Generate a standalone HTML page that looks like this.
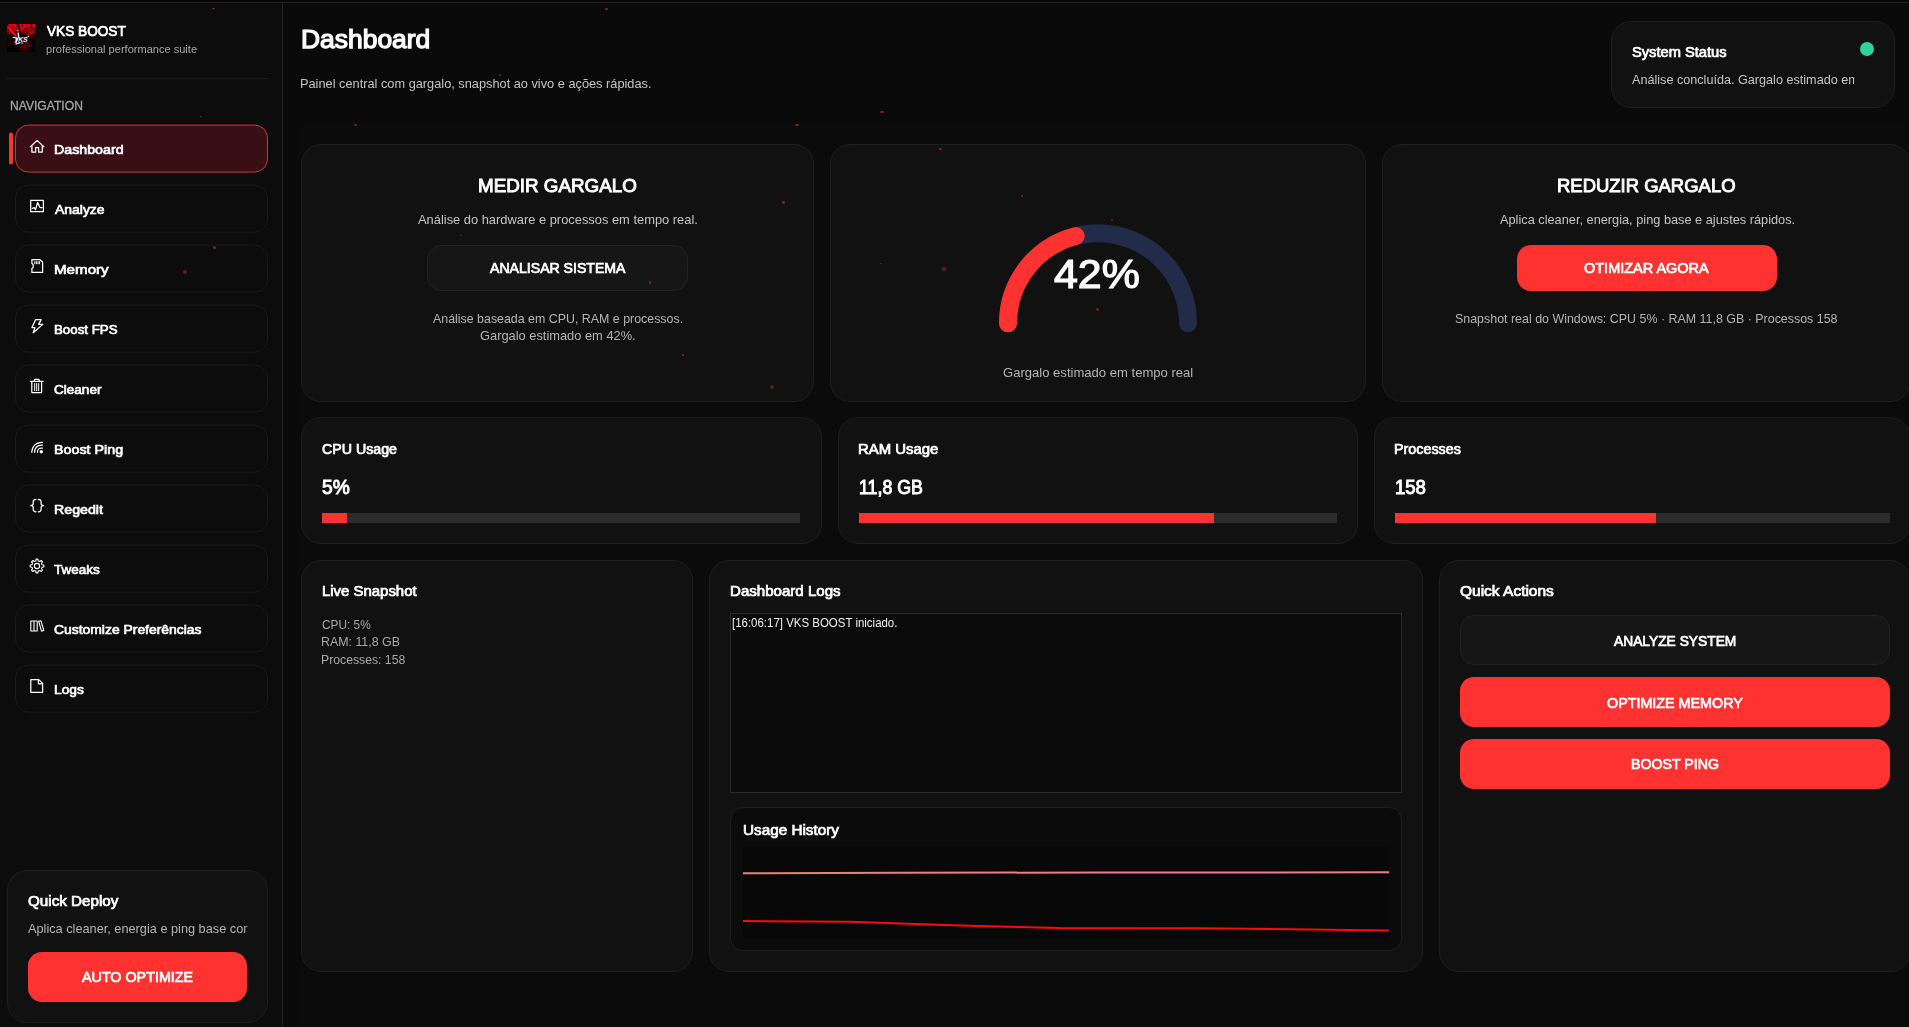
<!DOCTYPE html>
<html lang="pt-BR">
<head>
<meta charset="utf-8">
<title>VKS BOOST - Dashboard</title>
<style>
*{box-sizing:border-box;margin:0;padding:0}
html,body{width:1909px;height:1027px;overflow:hidden;background:#0a0a0a}
body{position:relative;font-family:"Liberation Sans",sans-serif;color:#fff}
.abs{position:absolute}
.t{position:absolute;white-space:nowrap;line-height:normal;display:block;transform-origin:0 0}
#topbar{left:0;top:0;width:1909px;height:2px;background:#060606}
#topline{left:0;top:2px;width:1909px;height:1px;background:#222}
#sidebar{left:0;top:3px;width:282px;height:1024px;background:#0c0c0c}
#sideline{left:282px;top:3px;width:1px;height:1024px;background:#222}
#content{left:301px;top:124px;width:1608px;height:903px;background:#0b0b0b}
.card{position:absolute;background:#111;border:1px solid #1e1e1e;border-radius:20px}
.nav{position:absolute;left:15px;width:253px;height:48px;border:1px solid #1a1a1a;border-radius:13px;background:#0c0c0c}
.nav.active{background:#3a0e15;border-color:#d83434}
.btn{position:absolute;border-radius:14px}
.btn.red{background:#ff3232}
.btn.dark{background:#161616;border:1px solid #222}
.track{position:absolute;height:10px;background:#2c2c2c}
.fill{position:absolute;left:0;top:0;height:10px;background:#ff3232}
.dot{position:absolute;border-radius:50%;background:#b02428}
svg{position:absolute;overflow:visible}
</style>
</head>
<body>
<div class="abs" id="topbar"></div>
<div class="abs" id="topline"></div>
<div class="abs" id="sidebar"></div>
<div class="abs" id="sideline"></div>
<div class="abs" id="content"></div>

<aside>
<!-- sidebar -->
<svg style="left:7px;top:24px" width="28" height="28" viewBox="0 0 28 28">
<defs>
<linearGradient id="lg1" x1="0" y1="0" x2="0" y2="1"><stop offset="0" stop-color="#e8000e"/><stop offset=".2" stop-color="#d0000c"/><stop offset=".32" stop-color="#6a0005"/><stop offset=".42" stop-color="#140001"/><stop offset="1" stop-color="#050000"/></linearGradient>
<radialGradient id="lg2" cx=".62" cy=".82" r=".3"><stop offset="0" stop-color="#6a0004" stop-opacity=".9"/><stop offset="1" stop-color="#300" stop-opacity="0"/></radialGradient>
<radialGradient id="lg3" cx=".86" cy=".33" r=".25"><stop offset="0" stop-color="#d0000a" stop-opacity=".9"/><stop offset="1" stop-color="#600" stop-opacity="0"/></radialGradient>
<filter id="gr" x="0" y="0" width="100%" height="100%"><feTurbulence type="fractalNoise" baseFrequency="0.30" numOctaves="2" seed="4" result="n"/><feColorMatrix in="n" type="matrix" values="0 0 0 0 0  0 0 0 0 0  0 0 0 0 0  3.2 0 0 0 -1.45"/><feComposite in2="SourceGraphic" operator="in"/></filter>
<clipPath id="lc"><rect width="28" height="28"/></clipPath>
</defs>
<g clip-path="url(#lc)">
<rect width="28" height="28" fill="url(#lg1)"/>
<rect width="28" height="28" fill="url(#lg2)"/>
<rect width="28" height="28" fill="url(#lg3)"/>
<rect width="28" height="13" fill="#200000" filter="url(#gr)"/>
<path d="M2.5 4.5 L8.8 11.8" stroke="#ff0d14" stroke-width="2" stroke-linecap="round"/>
<path d="M23.2 7.5 L19.6 15.2" stroke="#e0000c" stroke-width="1.2" stroke-linecap="round" stroke-dasharray="1.6 1.4" opacity=".8"/><path d="M19.4 17 L23.4 23.5" stroke="#b00008" stroke-width="1.1" stroke-linecap="round" stroke-dasharray="1 1.8" opacity=".7"/>
<path d="M12 4 L13.2 9" stroke="#1a0000" stroke-width="2.2" stroke-linecap="round" opacity=".7"/>
<circle cx="10.6" cy="6.6" r=".75" fill="#fff"/>
<path d="M11.2 9.2 L11.6 12.6 M6.2 13.4 L9.4 14 L8.8 19 L11.6 12.8 M9 20 L13 18.6" stroke="#fff" stroke-width="1.25" fill="none" stroke-linecap="round"/>
<text x="11.2" y="18" font-family="Liberation Sans, sans-serif" font-size="6.6" font-weight="bold" font-style="italic" fill="#fff" textLength="9.5" lengthAdjust="spacingAndGlyphs">KS</text>
<circle cx="21.3" cy="12.4" r=".6" fill="#fff"/>
<rect x="14.2" y="18.6" width="2" height=".9" fill="#fff"/>
<circle cx="7.4" cy="18.2" r=".8" fill="#e0000c"/><circle cx="18.6" cy="18.2" r=".8" fill="#e0000c"/><circle cx="12.6" cy="17.4" r=".7" fill="#e0000c"/>
</g>
</svg>
<div class="abs" style="left:7px;top:78px;width:261px;height:1px;background:#1e1e1e"></div>
<svg style="left:0;top:0" width="282" height="720" viewBox="0 0 282 720">
<rect x="9" y="132.6" width="4" height="32" rx="2" fill="#ff3232"/>
<rect x="15.5" y="125.07" width="252" height="47" rx="13" fill="#3a0e15" stroke="#d63434" stroke-width="1"/>
<rect x="15.5" y="185.07" width="252" height="47" rx="13" fill="#0c0c0c" stroke="#1b1b1b" stroke-width="1"/>
<rect x="15.5" y="245.07" width="252" height="47" rx="13" fill="#0c0c0c" stroke="#1b1b1b" stroke-width="1"/>
<rect x="15.5" y="305.07" width="252" height="47" rx="13" fill="#0c0c0c" stroke="#1b1b1b" stroke-width="1"/>
<rect x="15.5" y="365.07" width="252" height="47" rx="13" fill="#0c0c0c" stroke="#1b1b1b" stroke-width="1"/>
<rect x="15.5" y="425.07" width="252" height="47" rx="13" fill="#0c0c0c" stroke="#1b1b1b" stroke-width="1"/>
<rect x="15.5" y="485.07" width="252" height="47" rx="13" fill="#0c0c0c" stroke="#1b1b1b" stroke-width="1"/>
<rect x="15.5" y="545.07" width="252" height="47" rx="13" fill="#0c0c0c" stroke="#1b1b1b" stroke-width="1"/>
<rect x="15.5" y="605.07" width="252" height="47" rx="13" fill="#0c0c0c" stroke="#1b1b1b" stroke-width="1"/>
<rect x="15.5" y="665.07" width="252" height="47" rx="13" fill="#0c0c0c" stroke="#1b1b1b" stroke-width="1"/>
</svg>
<svg style="left:0;top:0" width="282" height="720" viewBox="0 0 282 720">
<g stroke="#fff" stroke-width="1.25" fill="none" stroke-linejoin="round" stroke-linecap="round">
<path d="M30.4 146.7 L37.1 140.4 L43.8 146.7 M31.9 146 V152 H35.6 V147.7 H38.6 V152 H42.3 V146"/>
<path d="M30.7 200.4 H43.4 V211.7 H30.7 Z M32.4 208.3 L34.3 207.6 L35.6 209.6 L37.6 202.4 L40 207.6 H42"/>
<path d="M31.9 259.7 H40 L42.6 261.9 V272.4 H31.9 V268.6 L33.2 267.6 V264.4 L31.9 263.4 Z"/>
<path d="M34.8 261.6 V263.8 M36.4 261.6 V263.8 M38 261.6 V263.8 M39.6 261.6 V263.8" stroke-width="1"/>
<path d="M35.7 319.6 H41.2 L38.6 324.4 H42.8 L33.2 332.8 L34.9 327.6 H31.9 Z"/>
<path d="M30.5 381.4 H43 M34.4 381.4 V380 Q34.4 379.4 35 379.4 H38.5 Q39.1 379.4 39.1 380 V381.4 M31.8 381.4 V392.1 Q31.8 392.7 32.4 392.7 H41 Q41.6 392.7 41.6 392.1 V381.4"/>
<path d="M34.7 383.5 V390.7 M36.7 383.5 V390.7 M38.7 383.5 V390.7" stroke-width="1"/>
<path d="M37.50 452.70 V451.80 A3.8 3.8 0 0 1 41.30 448.00 H42.90" stroke-linecap="butt"/>
<path d="M34.60 452.70 V451.80 A6.7 6.7 0 0 1 41.30 445.10 H42.90" stroke-linecap="butt"/>
<path d="M31.80 452.70 V451.80 A9.5 9.5 0 0 1 41.30 442.30 H42.90" stroke-linecap="butt"/>
<circle cx="41.3" cy="451.8" r="1.7" fill="#fff" stroke="none"/>
<path d="M36 499.3 Q33.2 499.3 33.2 501.8 V503.5 Q33.2 505.5 30.7 505.5 Q33.2 505.5 33.2 507.5 V509.3 Q33.2 511.8 36 511.8"/>
<path d="M38.3 499.3 Q41.1 499.3 41.1 501.8 V503.5 Q41.1 505.5 43.6 505.5 Q41.1 505.5 41.1 507.5 V509.3 Q41.1 511.8 38.3 511.8"/>
<path d="M36.08 559.16 L37.92 559.16 L38.21 560.94 L39.72 561.57 L41.19 560.51 L42.49 561.81 L41.43 563.28 L42.06 564.79 L43.84 565.08 L43.84 566.92 L42.06 567.21 L41.43 568.72 L42.49 570.19 L41.19 571.49 L39.72 570.43 L38.21 571.06 L37.92 572.84 L36.08 572.84 L35.79 571.06 L34.28 570.43 L32.81 571.49 L31.51 570.19 L32.57 568.72 L31.94 567.21 L30.16 566.92 L30.16 565.08 L31.94 564.79 L32.57 563.28 L31.51 561.81 L32.81 560.51 L34.28 561.57 L35.79 560.94Z" stroke-width="1.1"/>
<circle cx="37" cy="566" r="2.6" stroke-width="1.1"/>
<path d="M30.8 621 H34 V631 H30.8 Z M34 621 H37.2 V631 H34 Z M38.7 621.4 L41 620.8 L43.8 630.5 L41.5 631.1 Z" stroke-width="1.1"/>
<path d="M30.8 679.6 H38.8 L42.6 683.4 V692.4 H30.8 Z M38.4 679.8 V683.8 H42.4"/>
</g></svg>
<div class="card" style="left:7px;top:870px;width:261px;height:153px"></div>
<div class="btn red" style="left:28px;top:952px;width:219px;height:50px"></div>

<span class="t" style="left:47.09px;top:23.00px;font-size:14.5px;font-weight:normal;color:#fff;transform:scaleX(0.9402);-webkit-text-stroke:0.72px #fff">VKS BOOST</span>
<span class="t" style="left:46.45px;top:43.00px;font-size:11px;font-weight:normal;color:#a8a8a8;transform:scaleX(1.0041)">professional performance suite</span>
<span class="t" style="left:10.42px;top:99.00px;font-size:12.6px;font-weight:normal;color:#a4a4a4;transform:scaleX(0.9616);-webkit-text-stroke:0.3px #a4a4a4">NAVIGATION</span>
<span class="t" style="left:53.70px;top:142.00px;font-size:13.5px;font-weight:normal;color:#fff;transform:scaleX(1.0538);-webkit-text-stroke:0.67px #fff">Dashboard</span>
<span class="t" style="left:54.59px;top:202.00px;font-size:13.5px;font-weight:normal;color:#fff;transform:scaleX(1.0324);-webkit-text-stroke:0.67px #fff">Analyze</span>
<span class="t" style="left:53.59px;top:262.00px;font-size:13.5px;font-weight:normal;color:#fff;transform:scaleX(1.1211);-webkit-text-stroke:0.67px #fff">Memory</span>
<span class="t" style="left:53.81px;top:322.00px;font-size:13.5px;font-weight:normal;color:#fff;transform:scaleX(0.9854);-webkit-text-stroke:0.67px #fff">Boost FPS</span>
<span class="t" style="left:54.13px;top:382.00px;font-size:13.5px;font-weight:normal;color:#fff;transform:scaleX(1.0039);-webkit-text-stroke:0.67px #fff">Cleaner</span>
<span class="t" style="left:53.65px;top:442.00px;font-size:13.5px;font-weight:normal;color:#fff;transform:scaleX(1.0580);-webkit-text-stroke:0.67px #fff">Boost Ping</span>
<span class="t" style="left:53.69px;top:502.00px;font-size:13.5px;font-weight:normal;color:#fff;transform:scaleX(1.0520);-webkit-text-stroke:0.67px #fff">Regedit</span>
<span class="t" style="left:54.30px;top:562.00px;font-size:13.5px;font-weight:normal;color:#fff;transform:scaleX(0.9984);-webkit-text-stroke:0.67px #fff">Tweaks</span>
<span class="t" style="left:54.01px;top:622.00px;font-size:13.5px;font-weight:normal;color:#fff;transform:scaleX(1.0291);-webkit-text-stroke:0.67px #fff">Customize Preferências</span>
<span class="t" style="left:53.76px;top:682.00px;font-size:13.5px;font-weight:normal;color:#fff;transform:scaleX(1.0234);-webkit-text-stroke:0.67px #fff">Logs</span>
<span class="t" style="left:27.80px;top:893.00px;font-size:14.5px;font-weight:normal;color:#fff;transform:scaleX(1.0485);-webkit-text-stroke:0.72px #fff">Quick Deploy</span>
<span class="t" style="left:81.50px;top:969.00px;font-size:14.5px;font-weight:normal;color:#fff;transform:scaleX(0.9872);-webkit-text-stroke:0.72px #fff">AUTO OPTIMIZE</span>
<span class="t" style="left:28.00px;top:921.00px;width:223.56px;overflow:hidden;font-size:13px;font-weight:normal;color:#b4b4b4;transform:scaleX(0.9796)">Aplica cleaner, energia e ping base com um clique.</span>
</aside>
<main>
<!-- header status -->
<div class="card" style="left:1611px;top:21px;width:284px;height:87px"></div>
<div class="abs" style="left:1860px;top:42px;width:14px;height:14px;border-radius:50%;background:#2fd49a"></div>

<!-- row 1 -->
<div class="card" style="left:301px;top:144px;width:513px;height:258px"></div>
<div class="card" style="left:830px;top:144px;width:536px;height:258px"></div>
<div class="card" style="left:1382px;top:144px;width:528px;height:258px"></div>
<div class="btn dark" style="left:427px;top:245px;width:261px;height:46px"></div>
<div class="btn red" style="left:1516.5px;top:245px;width:260px;height:46px"></div>
<svg style="left:988px;top:214px" width="220" height="130" viewBox="988 214 220 130">
  <path d="M1008 323.3 A90 90 0 0 1 1188 323.3" fill="none" stroke="#222c4a" stroke-width="18" stroke-linecap="round"/>
  <path d="M1008 323.3 A90 90 0 0 1 1075.6 236.1" fill="none" stroke="#ff3232" stroke-width="18" stroke-linecap="round"/>
</svg>

<!-- row 2 -->
<div class="card" style="left:301px;top:417px;width:521px;height:127px"></div>
<div class="card" style="left:838px;top:417px;width:520px;height:127px"></div>
<div class="card" style="left:1374px;top:417px;width:536px;height:127px"></div>
<div class="track" style="left:322px;top:513px;width:478px"><div class="fill" style="width:25px"></div></div>
<div class="track" style="left:859px;top:513px;width:478px"><div class="fill" style="width:355px"></div></div>
<div class="track" style="left:1395px;top:513px;width:495px"><div class="fill" style="width:261px"></div></div>

<!-- row 3 -->
<div class="card" style="left:301px;top:560px;width:392px;height:412px"></div>
<div class="card" style="left:709px;top:560px;width:714px;height:412px"></div>
<div class="card" style="left:1439px;top:560px;width:471px;height:412px"></div>
<div class="abs" style="left:730px;top:613px;width:672px;height:180px;background:#0b0b0b;border:1px solid #2a2a2a"></div>
<div class="abs" style="left:730px;top:807px;width:672px;height:144px;background:#0b0b0b;border:1px solid #1e1e1e;border-radius:13px"></div>
<div class="abs" style="left:743px;top:847px;width:646px;height:92px;background:#080808"></div>
<svg style="left:743px;top:847px" width="646" height="92" viewBox="743 847 646 92">
  <polyline points="743,873.2 900,872.8 1100,872.5 1389,872.3" fill="none" stroke="#ea8080" stroke-width="2"/>
  <polyline points="743,921 850,921.8 960,925.5 1060,928 1200,928.3 1389,930.4" fill="none" stroke="#ff0a0a" stroke-width="2"/>
</svg>
<div class="btn dark" style="left:1460px;top:615px;width:430px;height:50px"></div>
<div class="btn red" style="left:1460px;top:677px;width:430px;height:50px"></div>
<div class="btn red" style="left:1460px;top:739px;width:430px;height:50px"></div>

<div class="dot" style="left:212.0px;top:7.7px;width:3px;height:1.6px;background:#8a2226"></div>
<div class="dot" style="left:605.0px;top:7.5px;width:3px;height:2px;background:#8a2226"></div>
<div class="dot" style="left:499.0px;top:74.4px;width:2px;height:1.2px;background:#7a1e22"></div>
<div class="dot" style="left:200.0px;top:115.9px;width:2px;height:1.2px;background:#7a1e22"></div>
<div class="dot" style="left:354.0px;top:124.2px;width:3px;height:1.6px;background:#8a2226"></div>
<div class="dot" style="left:795.3px;top:124.2px;width:3.4px;height:1.6px;background:#8a2226"></div>
<div class="dot" style="left:880.3px;top:111.2px;width:3.4px;height:1.6px;background:#8a2226"></div>
<div class="dot" style="left:939.3px;top:147.6px;width:2.6px;height:2.6px;background:#8a2226"></div>
<div class="dot" style="left:782.3px;top:201.3px;width:2.4px;height:2.4px;background:#7a1e22"></div>
<div class="dot" style="left:459.5px;top:234.9px;width:2px;height:1.2px;background:#7a1e22"></div>
<div class="dot" style="left:212.9px;top:246.0px;width:3.2px;height:3.2px;background:#8a1e22"></div>
<div class="dot" style="left:183.0px;top:269.5px;width:4.2px;height:4.2px;background:#661a1c"></div>
<div class="dot" style="left:648.7px;top:281.2px;width:2.6px;height:2.6px;background:#8a2226"></div>
<div class="dot" style="left:880.0px;top:262.9px;width:2px;height:1.2px;background:#7a1e22"></div>
<div class="dot" style="left:942.2px;top:267.2px;width:3.6px;height:3.6px;background:#661a1c"></div>
<div class="dot" style="left:682.0px;top:354.4px;width:2px;height:1.2px;background:#7a1e22"></div>
<div class="dot" style="left:770.0px;top:385.1px;width:4px;height:4px;background:#661a1c"></div>
<div class="dot" style="left:1021.0px;top:195.4px;width:2px;height:1.2px;background:#7a1e22"></div>
<div class="dot" style="left:1110.5px;top:219.3px;width:2px;height:1.4px;background:#7a1e22"></div>
<div class="dot" style="left:1095.5px;top:308.0px;width:3px;height:3px;background:#7a1e22"></div>
<span class="t" style="left:300.54px;top:25.00px;font-size:25.1px;font-weight:normal;color:#fff;transform:scaleX(1.0530);-webkit-text-stroke:1.25px #fff">Dashboard</span>
<span class="t" style="left:300.17px;top:77.00px;font-size:12.7px;font-weight:normal;color:#c4c4c4;transform:scaleX(1.0068)">Painel central com gargalo, snapshot ao vivo e ações rápidas.</span>
<span class="t" style="left:1632.00px;top:44.00px;font-size:14.5px;font-weight:normal;color:#fff;transform:scaleX(1.0115);-webkit-text-stroke:0.72px #fff">System Status</span>
<span class="t" style="left:478.38px;top:175.00px;font-size:18.3px;font-weight:normal;color:#fff;transform:scaleX(1.0285);-webkit-text-stroke:0.91px #fff">MEDIR GARGALO</span>
<span class="t" style="left:418.27px;top:212.00px;font-size:13px;font-weight:normal;color:#c4c4c4;transform:scaleX(0.9904)">Análise do hardware e processos em tempo real.</span>
<span class="t" style="left:489.65px;top:260.00px;font-size:14.5px;font-weight:normal;color:#fff;transform:scaleX(0.9719);-webkit-text-stroke:0.72px #fff">ANALISAR SISTEMA</span>
<span class="t" style="left:433.37px;top:311.00px;font-size:13px;font-weight:normal;color:#b4b4b4;transform:scaleX(0.9535)">Análise baseada em CPU, RAM e processos.</span>
<span class="t" style="left:479.67px;top:328.00px;font-size:13px;font-weight:normal;color:#b4b4b4;transform:scaleX(0.9883)">Gargalo estimado em 42%.</span>
<span class="t" style="left:1054.23px;top:251.00px;font-size:41px;font-weight:normal;color:#fff;transform:scaleX(1.0464);-webkit-text-stroke:1.2px #fff">42%</span>
<span class="t" style="left:1002.67px;top:365.00px;font-size:13px;font-weight:normal;color:#b4b4b4;transform:scaleX(1.0048)">Gargalo estimado em tempo real</span>
<span class="t" style="left:1557.29px;top:175.00px;font-size:18.3px;font-weight:normal;color:#fff;transform:scaleX(1.0100);-webkit-text-stroke:0.91px #fff">REDUZIR GARGALO</span>
<span class="t" style="left:1499.70px;top:212.00px;font-size:13px;font-weight:normal;color:#c4c4c4;transform:scaleX(0.9817)">Aplica cleaner, energia, ping base e ajustes rápidos.</span>
<span class="t" style="left:1583.96px;top:260.00px;font-size:14.5px;font-weight:normal;color:#fff;transform:scaleX(0.9988);-webkit-text-stroke:0.72px #fff">OTIMIZAR AGORA</span>
<span class="t" style="left:1455.18px;top:311.00px;font-size:13px;font-weight:normal;color:#b4b4b4;transform:scaleX(0.9562)">Snapshot real do Windows: CPU 5% · RAM 11,8 GB · Processos 158</span>
<span class="t" style="left:322.00px;top:441.00px;font-size:14.5px;font-weight:normal;color:#fff;transform:scaleX(0.9792);-webkit-text-stroke:0.72px #fff">CPU Usage</span>
<span class="t" style="left:322.00px;top:477.00px;font-size:19.3px;font-weight:normal;color:#fff;transform:scaleX(0.9956);-webkit-text-stroke:0.96px #fff">5%</span>
<span class="t" style="left:857.67px;top:441.00px;font-size:14.5px;font-weight:normal;color:#fff;transform:scaleX(1.0272);-webkit-text-stroke:0.72px #fff">RAM Usage</span>
<span class="t" style="left:858.72px;top:477.00px;font-size:19.3px;font-weight:normal;color:#fff;transform:scaleX(0.9230);-webkit-text-stroke:0.96px #fff">11,8 GB</span>
<span class="t" style="left:1394.31px;top:441.00px;font-size:14.5px;font-weight:normal;color:#fff;transform:scaleX(0.9873);-webkit-text-stroke:0.72px #fff">Processes</span>
<span class="t" style="left:1395.07px;top:477.00px;font-size:19.3px;font-weight:normal;color:#fff;transform:scaleX(0.9616);-webkit-text-stroke:0.96px #fff">158</span>
<span class="t" style="left:321.69px;top:583.00px;font-size:14.5px;font-weight:normal;color:#fff;transform:scaleX(1.0294);-webkit-text-stroke:0.72px #fff">Live Snapshot</span>
<span class="t" style="left:321.91px;top:617.00px;font-size:13px;font-weight:normal;color:#a8a8a8;transform:scaleX(0.9105)">CPU: 5%</span>
<span class="t" style="left:321.20px;top:634.00px;font-size:13px;font-weight:normal;color:#a8a8a8;transform:scaleX(0.9527)">RAM: 11,8 GB</span>
<span class="t" style="left:321.36px;top:652.00px;font-size:13px;font-weight:normal;color:#a8a8a8;transform:scaleX(0.9403)">Processes: 158</span>
<span class="t" style="left:729.68px;top:583.00px;font-size:14.5px;font-weight:normal;color:#fff;transform:scaleX(1.0397);-webkit-text-stroke:0.72px #fff">Dashboard Logs</span>
<span class="t" style="left:732.48px;top:616.00px;font-size:12px;font-weight:normal;color:#f0f0f0;transform:scaleX(0.9551)">[16:06:17] VKS BOOST iniciado.</span>
<span class="t" style="left:742.56px;top:822.00px;font-size:14.5px;font-weight:normal;color:#fff;transform:scaleX(1.0531);-webkit-text-stroke:0.72px #fff">Usage History</span>
<span class="t" style="left:1459.84px;top:583.00px;font-size:14.5px;font-weight:normal;color:#fff;transform:scaleX(1.0684);-webkit-text-stroke:0.72px #fff">Quick Actions</span>
<span class="t" style="left:1613.81px;top:633.00px;font-size:14.5px;font-weight:normal;color:#fff;transform:scaleX(0.9509);-webkit-text-stroke:0.72px #fff">ANALYZE SYSTEM</span>
<span class="t" style="left:1606.90px;top:695.00px;font-size:14.5px;font-weight:normal;color:#fff;transform:scaleX(0.9875);-webkit-text-stroke:0.72px #fff">OPTIMIZE MEMORY</span>
<span class="t" style="left:1630.52px;top:756.00px;font-size:14.5px;font-weight:normal;color:#fff;transform:scaleX(0.9769);-webkit-text-stroke:0.72px #fff">BOOST PING</span>
<span class="t" style="left:1632.00px;top:72.00px;width:228.83px;overflow:hidden;font-size:13px;font-weight:normal;color:#c4c4c4;transform:scaleX(0.9715)">Análise concluída. Gargalo estimado em 42%.</span>
</main>
</body>
</html>
